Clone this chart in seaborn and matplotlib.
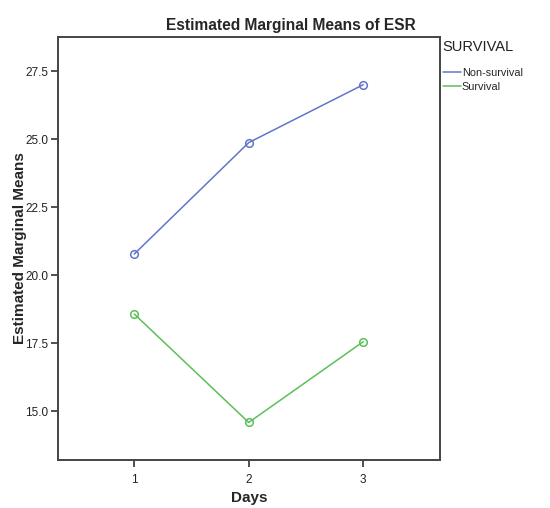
import matplotlib
matplotlib.use("Agg")
import matplotlib.pyplot as plt
import seaborn as sns
import pandas as pd
from matplotlib.lines import Line2D
from matplotlib.ticker import FormatStrFormatter

days = [1, 2, 3]
non_survival = [20.77, 24.87, 27.0]
survival = [18.57, 14.58, 17.55]
groups = ["Non-survival", "Survival"]
colors = {"Non-survival": "#6275cc", "Survival": "#5cbf5a"}

df = pd.DataFrame({
    "Days": days * 2,
    "Mean": non_survival + survival,
    "SURVIVAL": [groups[0]] * 3 + [groups[1]] * 3,
})

sns.set_theme(style="white")
plt.rcParams["font.family"] = ["Liberation Sans", "DejaVu Sans"]

fig = plt.figure(figsize=(5.5, 5.08), dpi=100)
ax = fig.add_axes([0.1055, 0.0945, 0.6945, 0.8325])

sns.lineplot(data=df, x="Days", y="Mean", hue="SURVIVAL", palette=colors,
             marker="o", markersize=5.5, linewidth=1.1, ax=ax, legend=False)
for ln in ax.lines:
    c = ln.get_color()
    ln.set_markerfacecolor("none")
    ln.set_markeredgecolor(c)
    ln.set_markeredgewidth(1.1)

ax.set_xlim(0.335, 3.67)
ax.set_ylim(13.2, 28.75)
ax.set_xticks(days)
ax.set_yticks([15.0, 17.5, 20.0, 22.5, 25.0, 27.5])
ax.yaxis.set_major_formatter(FormatStrFormatter("%.1f"))
ax.tick_params(axis="both", bottom=True, left=True, direction="out", length=5,
               width=1.2, color="#333333", labelsize=8.5, labelcolor="#222222", pad=2)
ax.tick_params(axis="x", pad=5)
for s in ax.spines.values():
    s.set_color("#444444")
    s.set_linewidth(1.4)

ax.set_xlabel("Days", fontsize=11, fontweight="bold", labelpad=4)
ax.set_ylabel("Estimated Marginal Means", fontsize=11, fontweight="bold", labelpad=-1)
fig.text(0.529, 0.95, "Estimated Marginal Means of ESR", fontsize=11.2,
         fontweight="bold", ha="center", va="center")

fig.text(0.804, 0.907, "SURVIVAL", fontsize=10.5, ha="left", va="center", color="#222222")
handles = [Line2D([0], [0], color=colors[g], lw=1.1) for g in groups]
leg = fig.legend(handles, groups, loc="upper left",
                 bbox_to_anchor=(0.806, 0.866), frameon=False, fontsize=7.8,
                 handlelength=1.6, handletextpad=0.1,
                 labelspacing=0.35, borderaxespad=0, borderpad=0)

fig.savefig("out.png", dpi=100)
